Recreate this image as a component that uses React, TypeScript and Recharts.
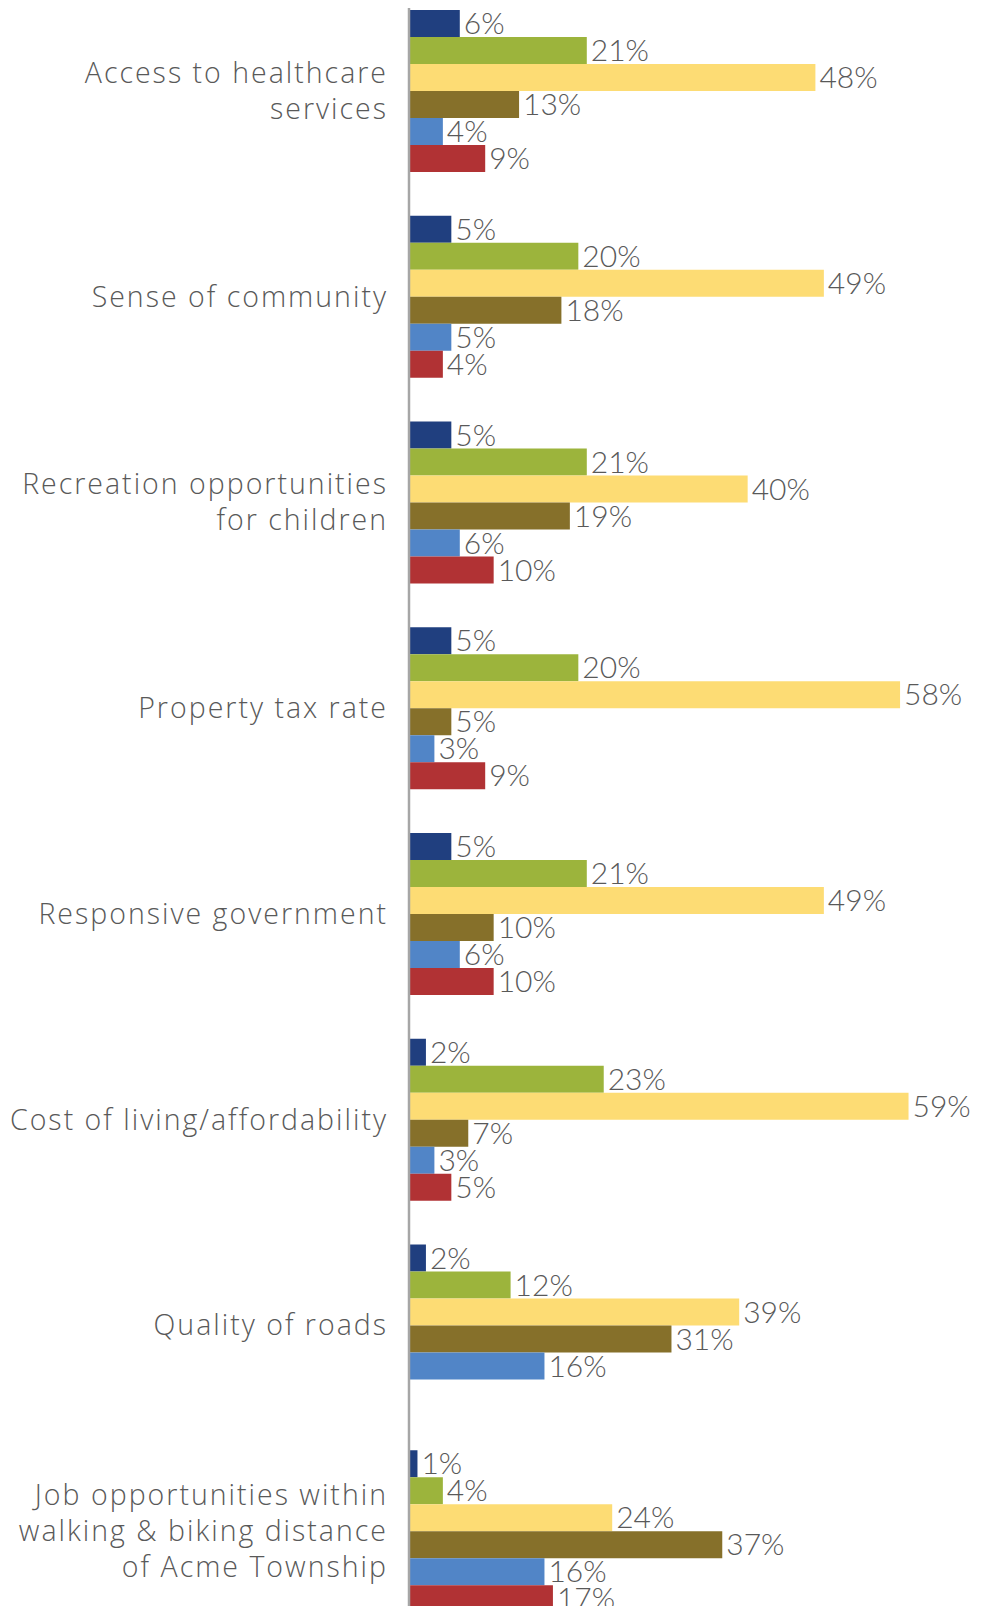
import React from "react";
import { BarChart, Bar, XAxis, YAxis, LabelList } from "recharts";

// categories (line breaks as in the original wrapping)
const categories = [
  "Access to healthcare\nservices",
  "Sense of community",
  "Recreation opportunities\nfor children",
  "Property tax rate",
  "Responsive government",
  "Cost of living/affordability",
  "Quality of roads",
  "Job opportunities within\nwalking & biking distance\nof Acme Township",
];

// one array per response level (legend not shown in the picture)
const level1 = [6, 5, 5, 5, 5, 2, 2, 1];
const level2 = [21, 20, 21, 20, 21, 23, 12, 4];
const level3 = [48, 49, 40, 58, 49, 59, 39, 24];
const level4 = [13, 18, 19, 5, 10, 7, 31, 37];
const level5 = [4, 5, 6, 3, 6, 3, 16, 16];
const level6: (number | null)[] = [9, 4, 10, 9, 10, 5, null, 17];

const series = [
  { key: "level1", color: "#203F7F" },
  { key: "level2", color: "#9CB43C" },
  { key: "level3", color: "#FDDC74" },
  { key: "level4", color: "#86702A" },
  { key: "level5", color: "#5185C7" },
  { key: "level6", color: "#B13234" },
];

const data = categories.map((name, i) => ({
  name,
  level1: level1[i],
  level2: level2[i],
  level3: level3[i],
  level4: level4[i],
  level5: level5[i],
  level6: level6[i],
}));

const textColor = "#595959";
const labelFont = "'Open Sans', Lato, sans-serif";
const valueFont = "Lato, 'Open Sans', sans-serif";

const CategoryTick = (props: any) => {
  const { x, y, payload } = props;
  const lines = String(payload.value).split("\n");
  const lineHeight = 36;
  const start = -((lines.length - 1) * lineHeight) / 2;
  return (
    <g>
      {lines.map((line, i) => (
        <text
          key={i}
          x={x}
          y={y + start + i * lineHeight}
          textAnchor="end"
          dominantBaseline="central"
          fill={textColor}
          fontSize={28.5}
          fontWeight={300}
          fontFamily={labelFont}
          letterSpacing={2}
        >
          {line}
        </text>
      ))}
    </g>
  );
};

const pct = (v: any) => (v == null ? "" : `${v}%`);

export default function App() {
  return (
    <div
      style={{
        position: "relative",
        width: 984,
        height: 1606,
        overflow: "hidden",
        margin: "-8px 0 0 -8px",
        background: "#fff",
      }}
    >
      <div style={{ position: "absolute", top: -13, left: 0 }}>
        <BarChart
          layout="vertical"
          width={984}
          height={1646}
          data={data}
          margin={{ top: 0, right: 67, bottom: 0, left: 0 }}
          barCategoryGap={23}
          barGap={0}
        >
          <XAxis type="number" domain={[0, 60]} hide />
          <YAxis
            type="category"
            dataKey="name"
            width={409}
            axisLine={{ stroke: "#A6A6A6", strokeWidth: 2.5 }}
            tickLine={false}
            tickSize={0}
            tickMargin={21}
            tick={<CategoryTick />}
            interval={0}
          />
          {series.map((s) => (
            <Bar key={s.key} dataKey={s.key} fill={s.color} isAnimationActive={false}>
              <LabelList
                dataKey={s.key}
                position="right"
                offset={4}
                formatter={pct}
                fill={textColor}
                fontSize={30}
                fontWeight={300}
                fontFamily={valueFont}
              />
            </Bar>
          ))}
        </BarChart>
      </div>
      <div
        style={{
          position: "absolute",
          left: 976,
          top: 0,
          width: 8,
          height: 1606,
          background: "#E5EDF1",
        }}
      />
    </div>
  );
}
